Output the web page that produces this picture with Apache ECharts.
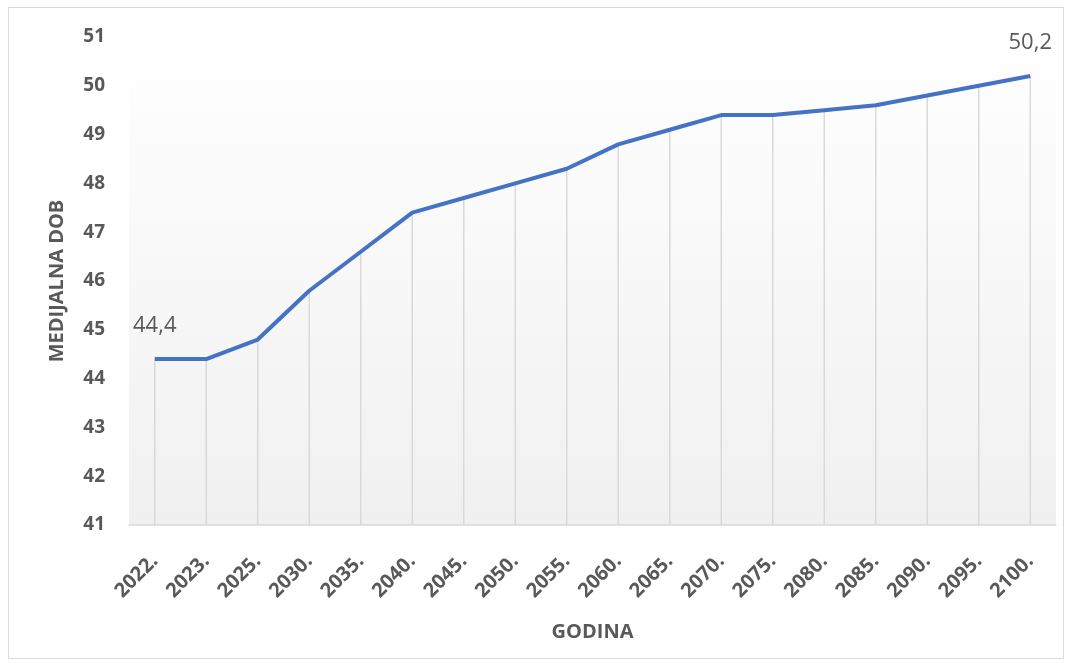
<!DOCTYPE html>
<html>
<head>
<meta charset="utf-8">
<script src="https://cdn.jsdelivr.net/npm/echarts@6/dist/echarts.min.js"></script>
<style>
  html, body { margin: 0; padding: 0; background: #fff; }
  #frame {
    position: absolute; left: 8px; top: 7px; width: 1056px; height: 652px;
    border: 1px solid #d9d9d9; box-sizing: border-box;
  }
  #main { position: absolute; left: 0; top: 0; width: 1073px; height: 667px; }
</style>
</head>
<body>
<div id="frame"></div>
<div id="main"></div>
<script>
// godine i medijalna dob
var godine = ['2022.', '2023.', '2025.', '2030.', '2035.', '2040.', '2045.', '2050.', '2055.',
  '2060.', '2065.', '2070.', '2075.', '2080.', '2085.', '2090.', '2095.', '2100.']
var medijalnaDob = [44.4, 44.4, 44.8, 45.8, 46.6, 47.4, 47.7, 48.0, 48.3,
  48.8, 49.1, 49.4, 49.4, 49.5, 49.6, 49.8, 50.0, 50.2]
var yMin = 41
var yMax = 51

var font = '"Open Sans", "DejaVu Sans", sans-serif'
var sivo = '#595959'

var myChart = echarts.init(document.getElementById('main'))

var option = {
  animation: false,
  grid: {
    left: 129, right: 17, top: 37, bottom: 142,
    show: true,
    borderWidth: 0,
    backgroundColor: new echarts.graphic.LinearGradient(0, 0, 0, 1, [
      { offset: 0, color: '#ffffff' },
      { offset: 1, color: '#f0f0f0' }
    ])
  },
  xAxis: {
    type: 'category',
    data: godine,
    boundaryGap: true,
    name: 'GODINA',
    nameLocation: 'middle',
    nameGap: 97,
    nameTextStyle: { color: sivo, fontFamily: font, fontWeight: 'bold', fontSize: 20 },
    axisLine: { lineStyle: { color: '#d9d9d9', width: 1.5 } },
    axisTick: { show: false },
    axisLabel: {
      rotate: 45, margin: 33, color: sivo, fontFamily: font, fontWeight: 'bold', fontSize: 20
    },
    splitLine: { show: false }
  },
  yAxis: {
    type: 'value',
    min: yMin,
    max: yMax,
    interval: 1,
    name: 'MEDIJALNA DOB',
    nameLocation: 'middle',
    nameGap: 62,
    nameTextStyle: { color: sivo, fontFamily: font, fontWeight: 'bold', fontSize: 20 },
    axisLine: { show: false },
    axisTick: { show: false },
    axisLabel: { margin: 24, color: sivo, fontFamily: font, fontWeight: 'bold', fontSize: 19 },
    splitLine: { show: false }
  },
  series: [
    {
      // okomite linije do osi
      type: 'bar',
      data: medijalnaDob,
      barWidth: 1.5,
      itemStyle: { color: '#d9d9d9' },
      silent: true,
      z: 1
    },
    {
      type: 'line',
      data: medijalnaDob,
      symbol: 'circle',
      symbolSize: 0,
      showSymbol: true,
      lineStyle: { color: '#4472c4', width: 4 },
      itemStyle: { color: '#4472c4' },
      z: 3,
      label: {
        show: true,
        position: 'top',
        distance: 22,
        color: sivo,
        fontFamily: font,
        fontSize: 22,
        formatter: function (p) {
          if (p.dataIndex === 0 || p.dataIndex === medijalnaDob.length - 1) {
            return p.value.toFixed(1).replace('.', ',')
          }
          return ''
        }
      }
    }
  ]
}

myChart.setOption(option)
</script>
</body>
</html>
